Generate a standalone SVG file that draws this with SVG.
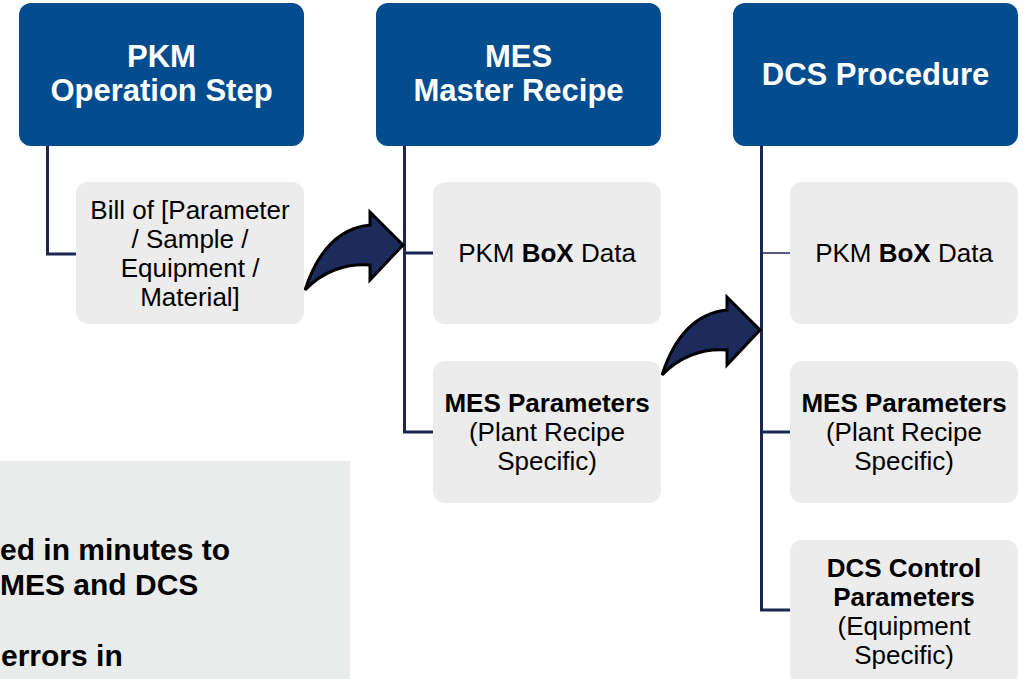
<svg xmlns="http://www.w3.org/2000/svg" width="1025" height="679" viewBox="0 0 1025 679">
<style>
.hdr{fill:#034d8e}
.box{fill:#ececec}
.ht{font-family:"Liberation Sans",Arial,sans-serif;font-weight:bold;font-size:31px;fill:#ffffff;text-anchor:middle}
.ct{font-family:"Liberation Sans",Arial,sans-serif;font-size:26px;fill:#000000;text-anchor:middle}
.b{font-weight:bold}
.ln{fill:none;stroke:#1b2550;stroke-width:3}
.thin{fill:none;stroke:#1b2550;stroke-width:1.5}
.arr{fill:#1c2a5c;stroke:#000000;stroke-width:3;stroke-linejoin:miter}
.note{font-family:"Liberation Sans",Arial,sans-serif;font-weight:bold;font-size:30px;fill:#000000}
</style>
<rect width="1025" height="679" fill="#ffffff"/>
<g id="note">
<rect x="0" y="461" width="350" height="218" fill="#eaebeb"/>
<text class="note" x="0" y="560">ed in minutes to</text>
<text class="note" x="0" y="595">MES and DCS</text>
<text class="note" x="1" y="666">errors in</text>
</g>
<g id="connectors">
<path class="ln" d="M47.5 146 V254 H76"/>
<path class="ln" d="M404.5 146 V432 H433 M404.5 253 H433"/>
<path class="ln" d="M761.5 146 V610 H790 M761.5 432 H790"/>
<path class="thin" d="M761.5 253 H790"/>
<path class="arr" d="M305 290 C318 250 340 228 370 225 L370 212 L403 245 L370 280 L370 265 C345 263 322 272 305 290 Z"/>
<path class="arr" transform="translate(357 85)" d="M305 290 C318 250 340 228 370 225 L370 212 L403 245 L370 280 L370 265 C345 263 322 272 305 290 Z"/>
</g>
<g id="pkm-header">
<rect class="hdr" x="19" y="3" width="285" height="143" rx="12"/>
<text class="ht" x="161.5" y="67">PKM</text>
<text class="ht" x="161.5" y="101">Operation Step</text>
</g>
<g id="pkm-bill">
<rect class="box" x="76" y="182" width="228" height="142" rx="12"/>
<text class="ct" x="190" y="219">Bill of [Parameter</text>
<text class="ct" x="190" y="248">/ Sample /</text>
<text class="ct" x="190" y="277">Equipment /</text>
<text class="ct" x="190" y="306">Material]</text>
</g>
<g id="mes-header">
<rect class="hdr" x="376" y="3" width="285" height="143" rx="12"/>
<text class="ht" x="518.5" y="67">MES</text>
<text class="ht" x="518.5" y="101">Master Recipe</text>
</g>
<g id="mes-box">
<rect class="box" x="433" y="182" width="228" height="142" rx="12"/>
<text class="ct" x="547" y="262">PKM <tspan class="b">BoX</tspan> Data</text>
</g>
<g id="mes-params">
<rect class="box" x="433" y="361" width="228" height="142" rx="12"/>
<text class="ct b" x="547" y="412">MES Parameters</text>
<text class="ct" x="547" y="441">(Plant Recipe</text>
<text class="ct" x="547" y="470">Specific)</text>
</g>
<g id="dcs-header">
<rect class="hdr" x="733" y="3" width="285" height="143" rx="12"/>
<text class="ht" x="875.5" y="85">DCS Procedure</text>
</g>
<g id="dcs-box">
<rect class="box" x="790" y="182" width="228" height="142" rx="12"/>
<text class="ct" x="904" y="262">PKM <tspan class="b">BoX</tspan> Data</text>
</g>
<g id="dcs-mes-params">
<rect class="box" x="790" y="361" width="228" height="142" rx="12"/>
<text class="ct b" x="904" y="412">MES Parameters</text>
<text class="ct" x="904" y="441">(Plant Recipe</text>
<text class="ct" x="904" y="470">Specific)</text>
</g>
<g id="dcs-control">
<rect class="box" x="790" y="540" width="228" height="146" rx="12"/>
<text class="ct b" x="904" y="577">DCS Control</text>
<text class="ct b" x="904" y="606">Parameters</text>
<text class="ct" x="904" y="635">(Equipment</text>
<text class="ct" x="904" y="664">Specific)</text>
</g>
</svg>
